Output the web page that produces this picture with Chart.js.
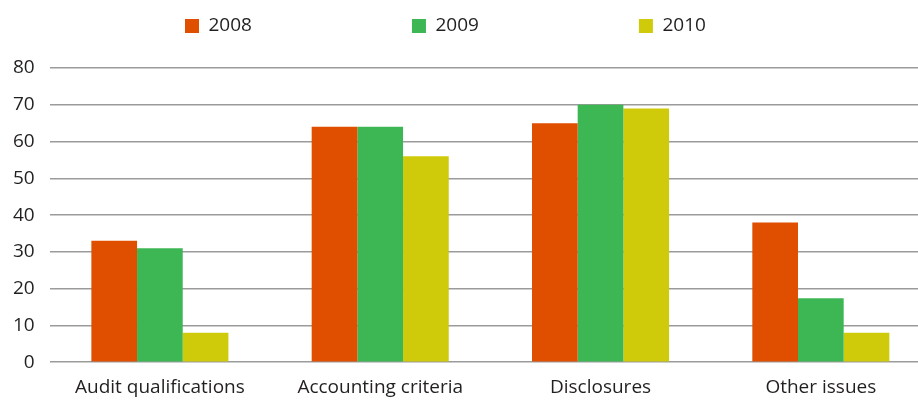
<!DOCTYPE html>
<html>
<head>
<meta charset="utf-8">
<script src="https://cdn.jsdelivr.net/npm/chart.js@4/dist/chart.umd.min.js"></script>
<style>
html,body{margin:0;padding:0;background:#fff;overflow:hidden;}
#wrap{width:931px;height:418px;position:relative;}
</style>
</head>
<body>
<div id="wrap"><canvas id="c"></canvas></div>
<script>
const categories = ["Audit qualifications", "Accounting criteria", "Disclosures", "Other issues"];
const seriesNames = ["2008", "2009", "2010"];
const values2008 = [33, 64, 65, 38];
const values2009 = [31, 64, 70, 17.4];
const values2010 = [8, 56, 69, 8];
const colors = ["#E04E00", "#3CB754", "#CFCA0A"];
const yTicks = [0, 10, 20, 30, 40, 50, 60, 70, 80];

const txt = "#231F20";
const fontFam = "'Open Sans', sans-serif";
const FS = 19;
const X_PAD = 14;
const Y_PAD = 15;

// legend layout tweak: wide spacing between items without a tall legend box
const legendTweak = {
  id: 'legendTweak',
  afterInit(chart) {
    const L = chart.legend;
    if (!L || L._tweaked) return;
    L._tweaked = true;
    const origFit = L.fit;
    L.fit = function () { origFit.call(this); this.height = 58; };
    const origDraw = L._draw;
    L._draw = function () {
      const ctx = this.ctx;
      const p = this.options.labels.padding;
      const firstX = (this.left + p + this.right - this.lineWidths[0]) / 2;
      ctx.save();
      ctx.translate(185 - firstX, 16.5 - (this.top + p));
      origDraw.call(this);
      ctx.restore();
    };
  }
};

new Chart(document.getElementById('c'), {
  type: 'bar',
  data: {
    labels: categories,
    datasets: [values2008, values2009, values2010].map((v, i) => ({
      label: seriesNames[i],
      data: v,
      backgroundColor: colors[i],
      borderWidth: 0,
      barPercentage: 1.0,
      categoryPercentage: 0.622
    }))
  },
  plugins: [legendTweak],
  options: {
    responsive: true,
    maintainAspectRatio: false,
    animation: false,
    devicePixelRatio: 1,
    layout: { autoPadding: false, padding: { left: 13, right: 0, top: 10, bottom: 19 } },
    plugins: {
      tooltip: { enabled: false },
      legend: {
        position: 'top',
        labels: {
          boxWidth: 14,
          boxHeight: 14,
          padding: 160,
          color: txt,
          font: { family: fontFam, size: FS }
        }
      }
    },
    scales: {
      x: {
        afterFit: (s) => { s.height -= X_PAD; },
        grid: { display: false, drawTicks: false },
        border: { display: false },
        ticks: { color: txt, font: { family: fontFam, size: FS }, padding: X_PAD, maxRotation: 0 }
      },
      y: {
        min: 0,
        max: 80,
        afterFit: (s) => { s.width -= Y_PAD; },
        afterBuildTicks: (s) => { s.ticks = yTicks.map(v => ({ value: v })); },
        grid: { color: '#9B9B9B', lineWidth: 1.5, drawTicks: false },
        border: { display: false },
        ticks: { color: txt, font: { family: fontFam, size: FS }, padding: Y_PAD, autoSkip: false }
      }
    }
  }
});
</script>
</body>
</html>
